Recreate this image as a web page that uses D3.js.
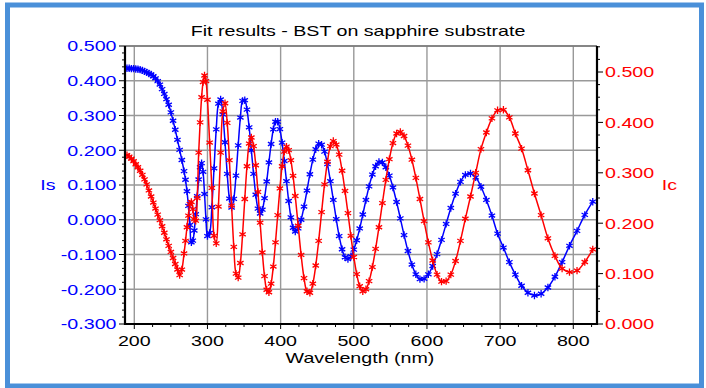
<!DOCTYPE html>
<html>
<head>
<meta charset="utf-8">
<script src="https://cdn.jsdelivr.net/npm/d3@7"></script>
<style>
  html, body { margin: 0; padding: 0; background: #fff; }
  svg text { font-family: "Liberation Sans", Arial, sans-serif; }
</style>
</head>
<body>
<div id="chart"></div>
<script>
// wavelength of each measured point (nm)
const wavelength = [
  190,193,196,199,202,205,208,211,214,217,220,223,226,229,232,235,238,241,244,247,250,253,256,259,262,265,268,
  270,272,274,276,278,280,282,284,286,288,290,292,294,296,298,300,
  303,306,309,312,315,318,321,324,327,330,333,336,339,342,345,348,351,354,357,360,363,366,369,372,375,378,381,384,387,390,393,396,399,402,405,408,411,414,417,420,
  424,428,432,436,440,444,448,452,456,460,464,468,472,476,480,484,488,492,496,500,
  504.0,508.1,512.3,516.6,520.9,525.4,529.8,534.4,539.1,543.8,548.6,553.5,558.5,563.6,568.7,574.0,579.4,584.8,590.4,596.1,
  601.9,607.8,613.8,619.9,626.2,632.6,639.1,645.8,652.5,659.5,666.6,673.8,681.2,688.8,696.5,704.5,712.6,720.8,729.3,738.0,
  746.9,756.0,765.3,774.9,784.7,794.8,805.1,815.7,826.6
];

// Is (left axis, blue)
const isValues = [
  0.436,0.436,0.435,0.435,0.434,0.433,0.432,0.430,0.427,0.424,0.421,0.418,0.413,0.407,0.399,0.389,0.376,0.362,0.347,0.331,0.309,0.285,0.259,0.230,0.201,0.172,0.140,
  0.115,0.082,0.040,-0.015,-0.065,-0.060,-0.031,0.016,0.068,0.116,0.151,0.163,0.138,0.074,0.001,-0.047,
  -0.038,0.036,0.148,0.260,0.334,0.346,0.303,0.223,0.132,0.061,0.035,0.060,0.127,0.214,0.294,0.342,0.344,0.317,0.266,0.200,
  0.132,0.072,0.032,0.018,0.029,0.062,0.110,0.165,0.218,0.260,0.282,0.282,0.261,0.222,0.169,0.111,0.054,0.007,-0.023,-0.034,
  -0.025,0.000,0.038,0.084,0.131,0.173,0.203,0.219,0.216,0.196,0.160,0.111,0.057,0.002,-0.047,-0.085,-0.108,-0.113,-0.105,-0.086,
  -0.059,-0.025,0.015,0.057,0.096,0.130,0.154,0.166,0.165,0.151,0.127,0.093,0.051,0.004,-0.044,-0.090,-0.129,-0.157,-0.171,-0.170,
  -0.157,-0.133,-0.099,-0.058,-0.012,0.034,0.075,0.109,0.129,0.133,0.122,0.095,0.057,0.012,-0.040,-0.080,-0.122,-0.158,-0.190,-0.210,
  -0.218,-0.213,-0.195,-0.164,-0.122,-0.075,-0.032,0.014,0.052
];

// Ic (right axis, red)
const icValues = [
  0.335,0.332,0.328,0.323,0.317,0.311,0.304,0.296,0.287,0.277,0.265,0.253,0.241,0.229,0.217,0.206,0.194,0.181,0.168,0.155,0.143,0.131,0.119,0.108,0.097,0.108,0.140,
  0.165,0.192,0.215,0.238,0.242,0.228,0.208,0.205,0.250,0.340,0.400,0.450,0.480,0.493,0.482,0.445,
  0.360,0.270,0.175,0.160,0.233,0.340,0.422,0.438,0.399,0.325,0.235,0.153,0.100,0.092,0.121,0.178,0.248,0.313,0.358,0.370,
  0.353,0.315,0.262,0.201,0.142,0.095,0.068,0.063,0.080,0.114,0.162,0.216,0.269,0.313,0.342,0.352,0.345,0.325,0.294,0.254,
  0.195,0.137,0.091,0.065,0.062,0.080,0.116,0.165,0.222,0.277,0.322,0.353,0.363,0.356,0.336,0.304,0.264,0.220,0.175,0.133,
  0.099,0.075,0.065,0.069,0.085,0.113,0.149,0.192,0.240,0.286,0.327,0.359,0.378,0.381,0.373,0.354,0.326,0.290,0.248,0.204,
  0.162,0.126,0.098,0.084,0.085,0.098,0.125,0.165,0.209,0.253,0.300,0.347,0.380,0.408,0.424,0.425,0.410,0.378,0.348,0.305,
  0.259,0.216,0.170,0.135,0.110,0.103,0.106,0.123,0.148
];

const xTicks = [200, 300, 400, 500, 600, 700, 800];
const isTicks = [-0.3, -0.2, -0.1, 0, 0.1, 0.2, 0.3, 0.4, 0.5];
const icTicks = [0, 0.1, 0.2, 0.3, 0.4, 0.5];

const title = "Fit results - BST on sapphire substrate";
const xTitle = "Wavelength (nm)";

const width = 706, height = 388;
const plot = { left: 125, right: 597, top: 46, bottom: 324 };
const stretch = 1.31; // text in the picture is drawn wide
const BLUE = "#0000ff", RED = "#ff0000";

const svg = d3.select("#chart").append("svg")
  .attr("width", width).attr("height", height)
  .attr("viewBox", `0 0 ${width} ${height}`);

svg.append("rect").attr("width", width).attr("height", height).attr("fill", "#fff");

// outer blue frame
svg.append("rect")
  .attr("x", 7.5).attr("y", 5).attr("width", 694).attr("height", 381)
  .attr("fill", "none").attr("stroke", "#4a90d9").attr("stroke-width", 5);

const x = d3.scaleLinear().domain([187.3, 832.4]).range([plot.left, plot.right]);
const yL = d3.scaleLinear().domain([-0.3, 0.5]).range([plot.bottom, plot.top]);
const yR = d3.scaleLinear().domain([0, 0.5516]).range([plot.bottom, plot.top]);

function label(str, px, py, anchor, color, size) {
  svg.append("text")
    .attr("transform", `translate(${px},${py}) scale(${stretch},1)`)
    .attr("text-anchor", anchor)
    .attr("fill", color)
    .style("font-size", (size || 15) + "px")
    .text(str);
}

// grid
const grid = svg.append("g").attr("stroke", "#999").attr("stroke-width", 1.4);
xTicks.forEach(t => grid.append("line")
  .attr("x1", x(t)).attr("x2", x(t)).attr("y1", plot.top).attr("y2", plot.bottom));
isTicks.forEach(t => grid.append("line")
  .attr("x1", plot.left).attr("x2", plot.right).attr("y1", yL(t)).attr("y2", yL(t)));

// tick marks
const ticks = svg.append("g").attr("stroke", "#000").attr("stroke-width", 1);
d3.range(-0.3, 0.5001, 0.02).forEach(t => {
  const major = Math.abs(Math.round(t * 10) - t * 10) < 1e-6;
  ticks.append("line").attr("x1", plot.left - (major ? 6 : 3)).attr("x2", plot.left)
    .attr("y1", yL(t)).attr("y2", yL(t));
});
d3.range(0, 0.5501, 0.025).forEach(t => {
  const major = Math.abs(Math.round(t * 10) - t * 10) < 1e-6;
  ticks.append("line").attr("x1", plot.right).attr("x2", plot.right + (major ? 6 : 3))
    .attr("y1", yR(t)).attr("y2", yR(t));
});
d3.range(200, 826, 25).forEach(t => {
  const major = t % 100 === 0;
  ticks.append("line").attr("x1", x(t)).attr("x2", x(t))
    .attr("y1", plot.bottom).attr("y2", plot.bottom + (major ? 5 : 3));
});

// frame of the plot
svg.append("line").attr("x1", plot.left).attr("x2", plot.right)
  .attr("y1", plot.top).attr("y2", plot.top).attr("stroke", "#777").attr("stroke-width", 1.4);
const axisLines = svg.append("g").attr("stroke", "#000").attr("stroke-width", 2.2);
axisLines.append("line").attr("x1", plot.left).attr("x2", plot.left).attr("y1", plot.top).attr("y2", plot.bottom + 1);
axisLines.append("line").attr("x1", plot.right).attr("x2", plot.right).attr("y1", plot.top).attr("y2", plot.bottom + 1);
axisLines.append("line").attr("x1", plot.left - 1).attr("x2", plot.right + 1).attr("y1", plot.bottom).attr("y2", plot.bottom);

// series
const pts = wavelength.map((w, i) => ({ w, is: isValues[i], ic: icValues[i] }));
const clip = svg.append("clipPath").attr("id", "clip").append("rect")
  .attr("x", plot.left + 1).attr("y", plot.top).attr("width", plot.right - plot.left - 2).attr("height", plot.bottom - plot.top);

function series(key, yScale, color) {
  const g = svg.append("g").attr("clip-path", "url(#clip)");
  const line = d3.line().x(d => x(d.w)).y(d => yScale(d[key])).curve(d3.curveCatmullRom.alpha(0.5));
  g.append("path").datum(pts).attr("d", line)
    .attr("fill", "none").attr("stroke", color).attr("stroke-width", 1.5);
  const sym = d3.symbol(d3.symbolAsterisk, 38);
  g.selectAll("path.pt").data(pts).join("path").attr("class", "pt")
    .attr("transform", d => `translate(${x(d.w)},${yScale(d[key])})`)
    .attr("d", sym).attr("fill", "none").attr("stroke", color).attr("stroke-width", 1.3);
}
series("is", yL, BLUE);
series("ic", yR, RED);

// texts
label(title, 358, 35.5, "middle", "#000");
isTicks.forEach(t => label(d3.format(".3f")(t).replace("−", "-"), 116.5, yL(t) + 5.4, "end", BLUE));
icTicks.forEach(t => label(d3.format(".3f")(t), 605, yR(t) + 5.4, "start", RED));
xTicks.forEach(t => label(String(t), x(t), 345.5, "middle", "#000"));
label(xTitle, 360, 362.5, "middle", "#000");
label("Is", 48, 190, "middle", BLUE);
label("Ic", 669.5, 190, "middle", RED);
</script>
</body>
</html>
